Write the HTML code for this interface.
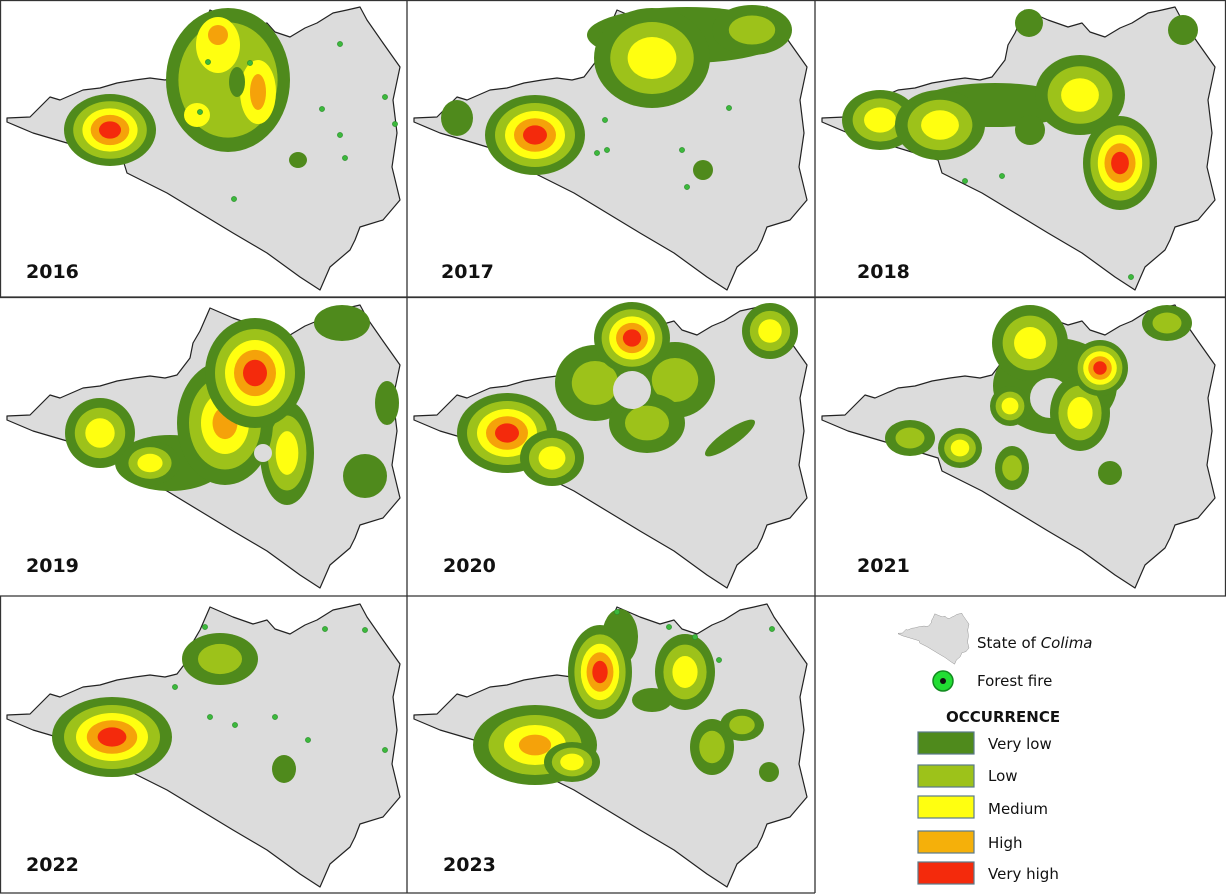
<!DOCTYPE html>
<html><head><meta charset="utf-8"><style>
html,body{margin:0;padding:0;background:#fff;}
svg{display:block;}
text{font-family:"DejaVu Sans","Liberation Sans",sans-serif;}
.yr{font-size:19px;font-weight:bold;fill:#111;}
.lg{font-size:15px;fill:#111;}
</style></head><body>
<svg width="1226" height="895" viewBox="0 0 1226 895" xmlns="http://www.w3.org/2000/svg">
<defs>
<polygon id="st" points="7,118 30,117 50,97 60,100 83,90 100,88 117,83 135,80 150,78 165,80 177,77 190,60 193,45 200,33 210,10 233,20 253,27 267,23 275,32 290,37 305,28 317,23 333,13 347,10 360,7 367,20 383,43 400,67 393,100 397,133 392,167 400,200 383,220 360,227 355,240 350,250 330,267 320,290 300,277 267,253 233,233 200,213 167,193 127,173 123,160 100,153 67,143 33,133 7,122" fill="#dcdcdc" stroke="#222" stroke-width="1.2" stroke-linejoin="round"/>
<g id="b5"><circle r="1" fill="#4f8a1c"/><circle r="0.8" fill="#9dc21a"/><circle r="0.6" fill="#ffff10"/><circle r="0.42" fill="#f5a20a"/><circle r="0.24" fill="#f42a0c"/></g>
<g id="b4"><circle r="1" fill="#4f8a1c"/><circle r="0.75" fill="#9dc21a"/><circle r="0.5" fill="#ffff10"/><circle r="0.26" fill="#f5a20a"/></g>
<g id="b3"><circle r="1" fill="#4f8a1c"/><circle r="0.72" fill="#9dc21a"/><circle r="0.42" fill="#ffff10"/></g>
<g id="b2"><circle r="1" fill="#4f8a1c"/><circle r="0.58" fill="#9dc21a"/></g>
<g id="b2b"><circle r="1" fill="#4f8a1c"/><circle r="0.8" fill="#9dc21a"/></g>
<circle id="b1" r="1" fill="#4f8a1c"/>
<circle id="d" r="2.6" fill="#3cb83c" stroke="#2a8a2a" stroke-width="0.6"/>
<clipPath id="cp"><rect x="0" y="0" width="407" height="297"/></clipPath>
</defs>

<!-- 2016 -->
<g transform="translate(0,0)" clip-path="url(#cp)">
<use href="#st"/>
<use href="#b2b" transform="translate(228,80) scale(62,72)"/>
<ellipse cx="218" cy="45" rx="22" ry="28" fill="#ffff10"/>
<ellipse cx="218" cy="35" rx="10" ry="10" fill="#f5a20a"/>
<ellipse cx="258" cy="92" rx="18" ry="32" fill="#ffff10"/>
<ellipse cx="258" cy="92" rx="8" ry="18" fill="#f5a20a"/>
<ellipse cx="197" cy="115" rx="13" ry="12" fill="#ffff10"/>
<use href="#b1" transform="translate(237,82) scale(8,15)"/>
<use href="#b5" transform="translate(110,130) scale(46,36)"/>
<use href="#b1" transform="translate(298,160) scale(9,8)"/>
<use href="#d" x="340" y="44"/><use href="#d" x="322" y="109"/><use href="#d" x="385" y="97"/><use href="#d" x="340" y="135"/><use href="#d" x="345" y="158"/><use href="#d" x="234" y="199"/><use href="#d" x="395" y="124"/><use href="#d" x="208" y="62"/><use href="#d" x="250" y="63"/><use href="#d" x="200" y="112"/>
<text class="yr" x="26" y="278">2016</text>
</g>
<!-- 2017 -->
<g transform="translate(407,0)" clip-path="url(#cp)">
<use href="#st"/>
<use href="#b1" transform="translate(280,35) scale(100,28)"/>
<use href="#b3" transform="translate(245,58) scale(58,50)"/>
<use href="#b2" transform="translate(345,30) scale(40,25)"/>
<use href="#b1" transform="translate(50,118) scale(16,18)"/>
<use href="#b1" transform="translate(296,170) scale(10,10)"/>
<use href="#b5" transform="translate(128,135) scale(50,40)"/>
<use href="#d" x="200" y="150"/><use href="#d" x="275" y="150"/><use href="#d" x="280" y="187"/><use href="#d" x="322" y="108"/><use href="#d" x="198" y="120"/><use href="#d" x="190" y="153"/>
<text class="yr" x="34" y="278">2017</text>
</g>
<!-- 2018 -->
<g transform="translate(815,0)" clip-path="url(#cp)">
<use href="#st"/>
<use href="#b1" transform="translate(180,105) scale(80,22)"/>
<use href="#b1" transform="translate(215,130) scale(15,15)"/>
<use href="#b3" transform="translate(65,120) scale(38,30)"/>
<use href="#b3" transform="translate(125,125) scale(45,35)"/>
<use href="#b3" transform="translate(265,95) scale(45,40)"/>
<use href="#b5" transform="translate(305,163) scale(37,47)"/>
<use href="#b1" transform="translate(214,23) scale(14,14)"/>
<use href="#b1" transform="translate(368,30) scale(15,15)"/>
<use href="#d" x="187" y="176"/><use href="#d" x="150" y="181"/><use href="#d" x="316" y="277"/>
<text class="yr" x="42" y="278">2018</text>
</g>
<!-- 2019 -->
<g transform="translate(0,298)" clip-path="url(#cp)">
<use href="#st"/>
<use href="#b1" transform="translate(170,165) scale(55,28)"/>
<use href="#b3" transform="translate(287,155) scale(27,52)"/>
<use href="#b4" transform="translate(225,125) scale(48,62)"/>
<use href="#b5" transform="translate(255,75) scale(50,55)"/>
<use href="#b3" transform="translate(100,135) scale(35,35)"/>
<use href="#b3" transform="translate(150,165) scale(30,22)"/>
<use href="#b1" transform="translate(365,178) scale(22,22)"/>
<use href="#b1" transform="translate(387,105) scale(12,22)"/>
<use href="#b1" transform="translate(342,25) scale(28,18)"/>
<circle cx="263" cy="155" r="9" fill="#dcdcdc"/>
<text class="yr" x="26" y="274">2019</text>
</g>
<!-- 2020 -->
<g transform="translate(407,298)" clip-path="url(#cp)">
<use href="#st"/>
<use href="#b2" transform="translate(188,85) scale(40,38)"/>
<use href="#b2" transform="translate(268,82) scale(40,38)"/>
<use href="#b2" transform="translate(240,125) scale(38,30)"/>
<use href="#b5" transform="translate(225,40) scale(38,36)"/>
<ellipse cx="225" cy="92" rx="19" ry="19" fill="#dcdcdc"/>
<use href="#b5" transform="translate(100,135) scale(50,40)"/>
<use href="#b3" transform="translate(145,160) scale(32,28)"/>
<use href="#b3" transform="translate(363,33) scale(28,28)"/>
<ellipse cx="323" cy="140" rx="30" ry="8" fill="#4f8a1c" transform="rotate(-35 323 140)"/>
<text class="yr" x="36" y="274">2020</text>
</g>
<!-- 2021 -->
<g transform="translate(815,298)" clip-path="url(#cp)">
<use href="#st"/>
<use href="#b1" transform="translate(240,88) scale(62,48)"/>
<circle cx="235" cy="100" r="20" fill="#dcdcdc"/>
<use href="#b3" transform="translate(215,45) scale(38,38)"/>
<use href="#b3" transform="translate(195,108) scale(20,20)"/>
<use href="#b3" transform="translate(265,115) scale(30,38)"/>
<use href="#b5" transform="translate(285,70) scale(28,28)"/>
<use href="#b2" transform="translate(95,140) scale(25,18)"/>
<use href="#b3" transform="translate(145,150) scale(22,20)"/>
<use href="#b2" transform="translate(197,170) scale(17,22)"/>
<use href="#b1" transform="translate(295,175) scale(12,12)"/>
<use href="#b2" transform="translate(352,25) scale(25,18)"/>
<text class="yr" x="42" y="274">2021</text>
</g>
<!-- 2022 -->
<g transform="translate(0,597)" clip-path="url(#cp)">
<use href="#st"/>
<use href="#b2" transform="translate(220,62) scale(38,26)"/>
<use href="#b1" transform="translate(284,172) scale(12,14)"/>
<use href="#b5" transform="translate(112,140) scale(60,40)"/>
<use href="#d" x="205" y="30"/><use href="#d" x="325" y="32"/><use href="#d" x="365" y="33"/><use href="#d" x="175" y="90"/><use href="#d" x="210" y="120"/><use href="#d" x="275" y="120"/><use href="#d" x="308" y="143"/><use href="#d" x="385" y="153"/><use href="#d" x="235" y="128"/>
<text class="yr" x="26" y="274">2022</text>
</g>
<!-- 2023 -->
<g transform="translate(407,597)" clip-path="url(#cp)">
<use href="#st"/>
<use href="#b1" transform="translate(213,40) scale(18,28)"/>
<use href="#b5" transform="translate(193,75) scale(32,47)"/>
<use href="#b3" transform="translate(278,75) scale(30,38)"/>
<use href="#b1" transform="translate(245,103) scale(20,12)"/>
<use href="#b4" transform="translate(128,148) scale(62,40)"/>
<use href="#b3" transform="translate(165,165) scale(28,20)"/>
<use href="#b2" transform="translate(305,150) scale(22,28)"/>
<use href="#b2" transform="translate(335,128) scale(22,16)"/>
<use href="#b1" transform="translate(362,175) scale(10,10)"/>
<use href="#d" x="210" y="15"/><use href="#d" x="262" y="30"/><use href="#d" x="288" y="40"/><use href="#d" x="365" y="32"/><use href="#d" x="312" y="63"/>
<text class="yr" x="36" y="274">2023</text>
</g>

<!-- grid lines -->
<g stroke="#333" stroke-width="1.3" fill="none">
<rect x="0.5" y="0.5" width="1225" height="297"/>
<line x1="407" y1="0" x2="407" y2="893"/>
<line x1="815" y1="0" x2="815" y2="893"/>
<line x1="0" y1="297" x2="1226" y2="297"/>
<line x1="1225.5" y1="297" x2="1225.5" y2="596"/>
<line x1="0" y1="596" x2="1226" y2="596"/>
<line x1="0.5" y1="596" x2="0.5" y2="893"/>
<line x1="0" y1="893" x2="815" y2="893"/>
</g>

<!-- legend -->
<g transform="translate(897,612) scale(0.18)"><use href="#st" stroke="none" fill="#d5d5d5"/></g>
<text class="lg" x="977" y="648">State of <tspan font-style="italic">Colima</tspan></text>
<circle cx="943" cy="681" r="10" fill="#22dd33" stroke="#138a20" stroke-width="1.5"/>
<circle cx="943" cy="681" r="3" fill="#111"/>
<text class="lg" x="977" y="686">Forest fire</text>
<text x="946" y="722" style="font-size:15px;font-weight:bold;fill:#111">OCCURRENCE</text>
<g stroke="#5a7a8a" stroke-width="1.2">
<rect x="918" y="732" width="56" height="22" fill="#4f8a1c"/>
<rect x="918" y="765" width="56" height="22" fill="#9dc21a"/>
<rect x="918" y="796" width="56" height="22" fill="#ffff10"/>
<rect x="918" y="831" width="56" height="22" fill="#f5b00a"/>
<rect x="918" y="862" width="56" height="22" fill="#f42a0c"/>
</g>
<text class="lg" x="988" y="749">Very low</text>
<text class="lg" x="988" y="781">Low</text>
<text class="lg" x="988" y="814">Medium</text>
<text class="lg" x="988" y="848">High</text>
<text class="lg" x="988" y="879">Very high</text>
</svg>
</body></html>
